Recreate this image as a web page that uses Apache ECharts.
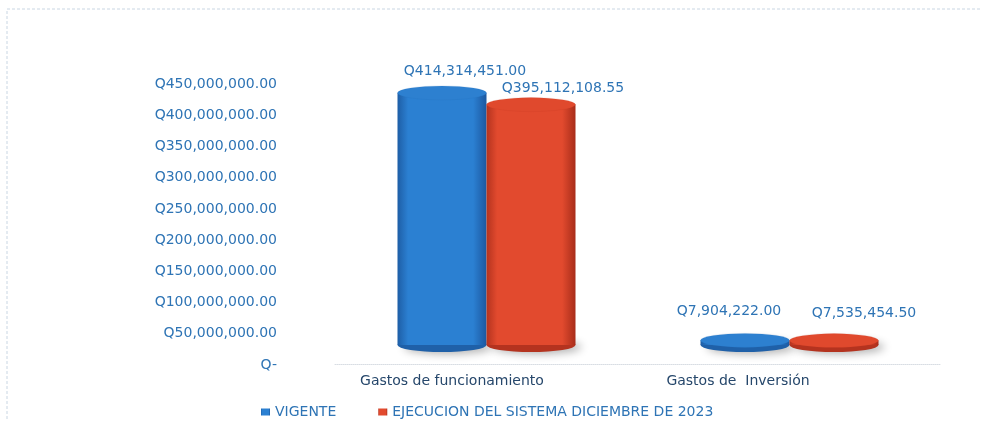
<!DOCTYPE html>
<html><head><meta charset="utf-8">
<script src="https://cdn.jsdelivr.net/npm/echarts@6/dist/echarts.min.js"></script>
<style>html,body{margin:0;padding:0;background:#fff}#c{width:982px;height:421px}</style>
</head><body><div id="c"></div>
<script>
const categories = ['Gastos de funcionamiento', 'Gastos de  Inversión'];
const seriesNames = ['VIGENTE', 'EJECUCION DEL SISTEMA DICIEMBRE DE 2023'];
const vigente = [414314451.00, 7904222.00];
const ejecucion = [395112108.55, 7535454.50];
const yTicks = [0, 50000000, 100000000, 150000000, 200000000, 250000000, 300000000, 350000000, 400000000, 450000000];

// label nudges (style only)
const blueLabelShift = [[23, -9], [-16, -17]];
const redLabelShift = [[32, -4], [30, -15]];

function fmtQ(v) {
  if (v === 0) return 'Q-';
  return 'Q' + v.toLocaleString('en-US', {minimumFractionDigits: 2, maximumFractionDigits: 2});
}
const FONT = 'DejaVu Sans';
const FS = 14;
const BW = 89;

function cyl(c1, c2, c3) {
  return new echarts.graphic.LinearGradient(0, 0, 1, 0, [
    {offset: 0, color: c1}, {offset: 0.12, color: c2}, {offset: 0.85, color: c2}, {offset: 1, color: c3}]);
}
const blueFill = cyl('#1e5ea6', '#2b80d2', '#1c58a0');
const redFill = cyl('#b4331f', '#e24a2e', '#a82d1a');

function labelled(vals, shifts) {
  return vals.map((v, i) => ({
    value: v,
    label: {offset: shifts[i]}
  }));
}

const chart = echarts.init(document.getElementById('c'), null, {renderer: 'canvas'});
chart.setOption({
  animation: false,
  backgroundColor: '#fff',
  graphic: [{
    type: 'rect', shape: {x: 7, y: 9, width: 1000, height: 440}, silent: true,
    style: {fill: 'none', stroke: '#c9d6e3', lineWidth: 1, lineDash: [3, 2]}
  }],
  grid: [
    {left: 309, right: 101, top: 84, bottom: 56},
    {left: 335, right: 41, top: 71, bottom: 76}
  ],
  legend: {
    data: seriesNames, left: 256, top: 400, itemWidth: 9, itemHeight: 7, itemGap: 42,
    icon: 'rect',
    textStyle: {fontFamily: FONT, fontSize: FS, color: '#2e74b5'}
  },
  xAxis: [
    {type: 'category', gridIndex: 0, data: categories,
     axisLine: {show: false}, axisTick: {show: false},
     axisLabel: {fontFamily: FONT, fontSize: FS, color: '#26476b', margin: 9}},
    {type: 'category', gridIndex: 1, data: categories,
     axisLine: {show: true, onZero: false, lineStyle: {color: '#d8dde3', type: 'dotted'}},
     offset: 19, axisTick: {show: false}, axisLabel: {show: false}}
  ],
  yAxis: [
    {type: 'value', gridIndex: 0, min: 0, max: 450000000, interval: 50000000,
     splitLine: {show: false}, axisLine: {show: false}, axisTick: {show: false},
     axisLabel: {fontFamily: FONT, fontSize: FS, color: '#2e74b5', margin: 32,
       formatter: v => yTicks.includes(v) ? fmtQ(v) : ''}},
    {type: 'value', gridIndex: 1, min: 0, max: 450000000, show: false}
  ],
  series: [
    {name: seriesNames[0], type: 'bar', xAxisIndex: 1, yAxisIndex: 1, barWidth: BW, barGap: '0%',
     itemStyle: {color: blueFill}, z: 3,
     label: {show: true, position: 'top', distance: 5, fontFamily: FONT, fontSize: FS, color: '#2e74b5',
       formatter: p => fmtQ(p.value)},
     data: labelled(vigente, blueLabelShift)},
    {name: seriesNames[1], type: 'bar', xAxisIndex: 1, yAxisIndex: 1, barWidth: BW, barGap: '0%',
     itemStyle: {color: redFill}, z: 3,
     label: {show: true, position: 'top', distance: 5, fontFamily: FONT, fontSize: FS, color: '#2e74b5',
       formatter: p => fmtQ(p.value)},
     data: labelled(ejecucion, redLabelShift)},
    // bottom ellipses
    {name: 'b0', type: 'pictorialBar', xAxisIndex: 1, yAxisIndex: 1, symbol: 'circle',
     symbolSize: [BW, 14], symbolOffset: [-BW / 2, '50%'], z: 2,
     itemStyle: {color: '#1f60a8', shadowColor: 'rgba(0,0,0,0.3)', shadowBlur: 8, shadowOffsetX: 6, shadowOffsetY: 2},
     data: vigente},
    {name: 'b1', type: 'pictorialBar', xAxisIndex: 1, yAxisIndex: 1, symbol: 'circle',
     symbolSize: [BW, 14], symbolOffset: [BW / 2, '50%'], z: 2,
     itemStyle: {color: '#b4331f', shadowColor: 'rgba(0,0,0,0.3)', shadowBlur: 8, shadowOffsetX: 6, shadowOffsetY: 2},
     data: ejecucion},
    // top ellipses
    {name: 't0', type: 'pictorialBar', xAxisIndex: 1, yAxisIndex: 1, symbol: 'circle',
     symbolSize: [BW, 14], symbolPosition: 'end', symbolOffset: [-BW / 2, '-50%'], z: 4,
     itemStyle: {color: '#2d80d0', borderColor: '#1f62ad', borderWidth: 1},
     data: vigente},
    {name: 't1', type: 'pictorialBar', xAxisIndex: 1, yAxisIndex: 1, symbol: 'circle',
     symbolSize: [BW, 14], symbolPosition: 'end', symbolOffset: [BW / 2, '-50%'], z: 4,
     itemStyle: {color: '#e0492d', borderColor: '#b4331f', borderWidth: 1},
     data: ejecucion}
  ]
});
</script></body></html>
